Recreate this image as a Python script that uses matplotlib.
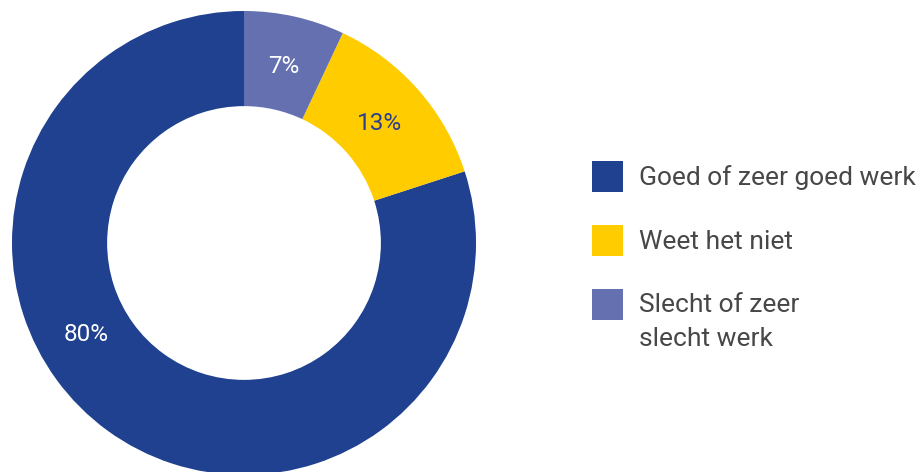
import matplotlib.pyplot as plt
from matplotlib.patches import Rectangle
import numpy as np

labels = ['Goed of zeer goed werk', 'Weet het niet', 'Slecht of zeer\nslecht werk']
values = [80, 13, 7]
colors = ['#1f418f', '#ffcc00', '#6470b0']
pct_colors = ['white', '#2a3f8f', 'white']

plt.rcParams['font.family'] = ['Roboto', 'DejaVu Sans']

W, H = 924, 472
fig = plt.figure(figsize=(W / 100, H / 100), dpi=100)
# pie axes: centre at (244, 243) px, radius 232 px
ax = fig.add_axes([12 / W, (229 - 232) / H, 464 / W, 464 / H])
wedges, texts, autotexts = ax.pie(values, colors=colors, startangle=90, counterclock=True,
                                  radius=1.0, wedgeprops=dict(width=0.41, linewidth=0),
                                  autopct='%d%%', pctdistance=0.78,
                                  textprops=dict(fontsize=17.5))
ax.set_xlim(-1, 1)
ax.set_ylim(-1, 1)
ax.set_aspect('equal')

for t, c in zip(autotexts, pct_colors):
    t.set_color(c)
# the big slice label sits lower-left, not at the wedge middle
ang = np.deg2rad(210)
autotexts[0].set_position((0.785 * np.cos(ang), 0.785 * np.sin(ang)))

# legend, drawn by hand so the square lines up with the first text line
line_px = 32.5
for i, (lab, w) in enumerate(zip(labels, wedges)):
    top = 161 + 64 * i
    fig.patches.append(Rectangle((592 / W, 1 - (top + 31) / H), 31 / W, 31 / H,
                                 transform=fig.transFigure, facecolor=w.get_facecolor(),
                                 edgecolor='none'))
    # va='baseline' uses the last line, so push multi-line labels down
    base = top + 24 + (lab.count('\n')) * line_px
    fig.text(639 / W, 1 - base / H, lab, fontsize=19, color='#474747',
             va='baseline', ha='left', linespacing=1.5)

fig.savefig('out.png', dpi=100)
